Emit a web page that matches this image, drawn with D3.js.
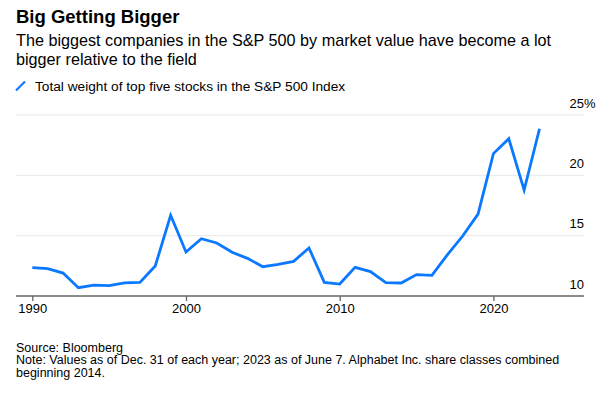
<!DOCTYPE html>
<html>
<head>
<meta charset="utf-8">
<script src="https://cdn.jsdelivr.net/npm/d3@7"></script>
<style>
  body { margin: 0; background: #fff; }
  text { font-family: "Liberation Sans", Arial, sans-serif; }
</style>
</head>
<body>
<svg id="chart"></svg>
<script>
// Total weight of top five stocks in the S&P 500 (percent), year-end values
const years = d3.range(1990, 2024);
const weights = [
    12.35, 12.27, 11.9, 10.69, 10.9, 10.86, 11.08, 11.13, 12.49, 16.69,
    13.65, 14.75, 14.39, 13.62, 13.12, 12.43, 12.62, 12.87, 13.98, 11.13,
    10.99, 12.37, 12.02, 11.11, 11.08, 11.77, 11.71, 13.4, 14.97, 16.79,
    21.8, 23.04, 18.78, 23.86
];
const xTicks = [1990, 2000, 2010, 2020];
const yTicks = [10, 15, 20, 25];

const data = years.map((yr, i) => ({ year: yr, value: weights[i] }));

const width = 606, height = 397;
const left = 16, right = 584;
const svg = d3.select("#chart").attr("width", width).attr("height", height);

const x = d3.scaleLinear().domain([1990, 2020]).range([32.3, 493.4]);
const y = d3.scaleLinear().domain([10, 25]).range([296, 115]);

// Header
svg.append("text")
    .attr("x", 16).attr("y", 23)
    .attr("font-size", "18.5px").attr("font-weight", "bold").attr("fill", "#000")
    .text("Big Getting Bigger");

const subtitle = ["The biggest companies in the S&P 500 by market value have become a lot",
                  "bigger relative to the field"];
subtitle.forEach((line, i) => {
    svg.append("text")
        .attr("x", 16).attr("y", 46 + i * 19)
        .attr("font-size", "16.2px").attr("fill", "#000")
        .text(line);
});

// Legend
svg.append("line")
    .attr("x1", 16).attr("y1", 90.5).attr("x2", 25).attr("y2", 81.5)
    .attr("stroke", "#0a78ff").attr("stroke-width", 2.2);
svg.append("text")
    .attr("x", 35).attr("y", 90.5)
    .attr("font-size", "13.7px").attr("fill", "#000")
    .text("Total weight of top five stocks in the S&P 500 Index");

// Gridlines
svg.append("g").selectAll("line")
    .data(yTicks.filter(d => d !== 10))
    .join("line")
    .attr("x1", left).attr("x2", right)
    .attr("y1", d => y(d)).attr("y2", d => y(d))
    .attr("stroke", "#e8e8e8").attr("stroke-width", 1);

// Y labels, right aligned above gridlines
svg.append("g").selectAll("text")
    .data(yTicks)
    .join("text")
    .attr("x", right).attr("y", d => y(d) - 7.5)
    .attr("text-anchor", "end")
    .attr("font-size", "13px").attr("fill", "#000")
    .text(d => d);
svg.append("text")
    .attr("x", right).attr("y", y(25) - 7.5)
    .attr("font-size", "13px").attr("fill", "#000")
    .text("%");

// X axis
const xAxis = d3.axisBottom(x).tickValues(xTicks).tickFormat(d3.format("d"))
    .tickSize(5).tickSizeOuter(0);
const gx = svg.append("g").attr("transform", `translate(0,${y(10)})`).call(xAxis);
gx.select(".domain").remove();
gx.append("line")
    .attr("x1", left).attr("x2", right)
    .attr("stroke", "#666").attr("stroke-width", 1.3);
gx.selectAll(".tick line").attr("stroke", "#666").attr("stroke-width", 1.3);
gx.selectAll(".tick text")
    .attr("y", 17).attr("dy", 0)
    .attr("font-size", "13px").attr("fill", "#000")
    .attr("font-family", "Liberation Sans, Arial, sans-serif");

// Line
const line = d3.line().x(d => x(d.year)).y(d => y(d.value));
svg.append("path")
    .datum(data)
    .attr("d", line)
    .attr("fill", "none")
    .attr("stroke", "#0a78ff")
    .attr("stroke-width", 2.8)
    .attr("stroke-linejoin", "miter");

// Footer
const notes = ["Source: Bloomberg",
               "Note: Values as of Dec. 31 of each year; 2023 as of June 7. Alphabet Inc. share classes combined",
               "beginning 2014."];
notes.forEach((line, i) => {
    svg.append("text")
        .attr("x", 16).attr("y", 351.5 + i * 12.7)
        .attr("font-size", "12.5px").attr("fill", "#000")
        .text(line);
});
</script>
</body>
</html>
